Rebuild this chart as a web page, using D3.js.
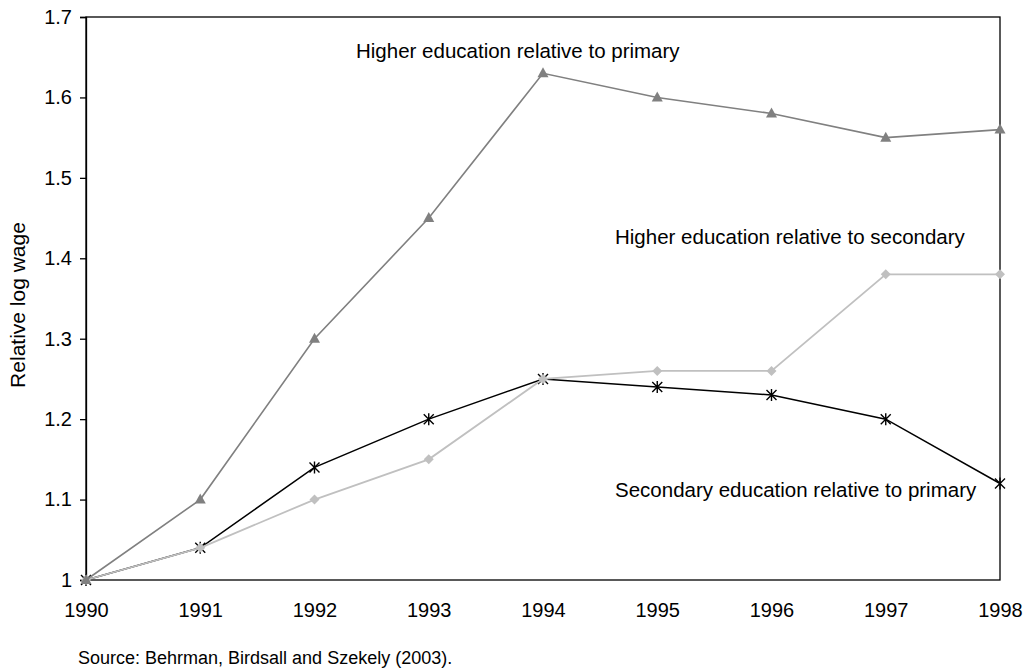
<!DOCTYPE html>
<html><head><meta charset="utf-8">
<script src="https://cdn.jsdelivr.net/npm/d3@7"></script>
<style>body{margin:0;background:#fff}svg{display:block}text{font-family:"Liberation Sans",Arial,sans-serif;fill:#000}</style>
</head><body>
<svg id="c" width="1027" height="671"></svg>
<script>
const years = [1990,1991,1992,1993,1994,1995,1996,1997,1998];
const higherVsPrimary = [1.00,1.10,1.30,1.45,1.63,1.60,1.58,1.55,1.56];
const higherVsSecondary = [1.00,1.04,1.10,1.15,1.25,1.26,1.26,1.38,1.38];
const secondaryVsPrimary = [1.00,1.04,1.14,1.20,1.25,1.24,1.23,1.20,1.12];
const yTicks = [1,1.1,1.2,1.3,1.4,1.5,1.6,1.7];
const yTickLabels = ["1","1.1","1.2","1.3","1.4","1.5","1.6","1.7"];

const svg = d3.select("#c");
const L=86, R=1000, T=17, B=580;
const x = d3.scalePoint().domain(years).range([L,R]);
const y = d3.scaleLinear().domain([1,1.7]).range([B,T]);

// frame
svg.append("rect").attr("x",L).attr("y",T).attr("width",R-L).attr("height",B-T)
  .attr("fill","none").attr("stroke","#000").attr("stroke-width",1.3);

// y axis
const ya = svg.append("g").attr("transform",`translate(${L},0)`)
  .call(d3.axisLeft(y).tickValues(yTicks).tickFormat((d,i)=>yTickLabels[i]).tickSize(6).tickPadding(8));
ya.select(".domain").attr("stroke","#000").attr("stroke-width",1.3);
ya.selectAll(".tick line").attr("stroke","#000").attr("stroke-width",1.3);
ya.selectAll("text").style("font-size","20px").attr("fill","#000").attr("font-family","Liberation Sans, Arial, sans-serif");

// x axis
const xa = svg.append("g").attr("transform",`translate(0,${B})`)
  .call(d3.axisBottom(x).tickSize(0).tickPadding(23).tickFormat(d3.format("d")));
xa.select(".domain").remove();
xa.selectAll("text").style("font-size","20px").attr("fill","#000").attr("font-family","Liberation Sans, Arial, sans-serif");

const line = d3.line().x((d,i)=>x(years[i])).y(d=>y(d));

// secondary vs primary (black, asterisks)
svg.append("path").datum(secondaryVsPrimary).attr("d",line).attr("fill","none").attr("stroke","#000").attr("stroke-width",1.5);
const ast = svg.append("g").selectAll("g").data(secondaryVsPrimary).join("g")
  .attr("transform",(d,i)=>`translate(${x(years[i])},${y(d)})`);
ast.append("path").attr("d","M-5,-5L5,5M-5,5L5,-5M0,-6L0,6").attr("stroke","#000").attr("stroke-width",1.4);

// higher vs secondary (light gray, diamonds)
svg.append("path").datum(higherVsSecondary).attr("d",line).attr("fill","none").attr("stroke","#c0c0c0").attr("stroke-width",1.8);
svg.append("g").selectAll("path").data(higherVsSecondary).join("path")
  .attr("transform",(d,i)=>`translate(${x(years[i])},${y(d)})`)
  .attr("d","M0,-5L5,0L0,5L-5,0Z").attr("fill","#c0c0c0");

// higher vs primary (dark gray, triangles)
svg.append("path").datum(higherVsPrimary).attr("d",line).attr("fill","none").attr("stroke","#808080").attr("stroke-width",1.6);
svg.append("g").selectAll("path").data(higherVsPrimary).join("path")
  .attr("transform",(d,i)=>`translate(${x(years[i])},${y(d)})`)
  .attr("d","M0,-6L5.5,4L-5.5,4Z").attr("fill","#808080");

// annotations
const ann = [
  {t:"Higher education relative to primary", x:356, y:58},
  {t:"Higher education relative to secondary", x:615, y:244},
  {t:"Secondary education relative to primary", x:615, y:497}
];
svg.append("g").selectAll("text").data(ann).join("text")
  .attr("x",d=>d.x).attr("y",d=>d.y).style("font-size","20.5px").text(d=>d.t);

// y title
svg.append("text").attr("transform","translate(25,305) rotate(-90)").attr("text-anchor","middle")
  .style("font-size","21px").text("Relative log wage");

// source
svg.append("text").attr("x",78).attr("y",664).style("font-size","18px").attr("fill","#222").text("Source: Behrman, Birdsall and Szekely (2003).");
</script>
</body></html>
